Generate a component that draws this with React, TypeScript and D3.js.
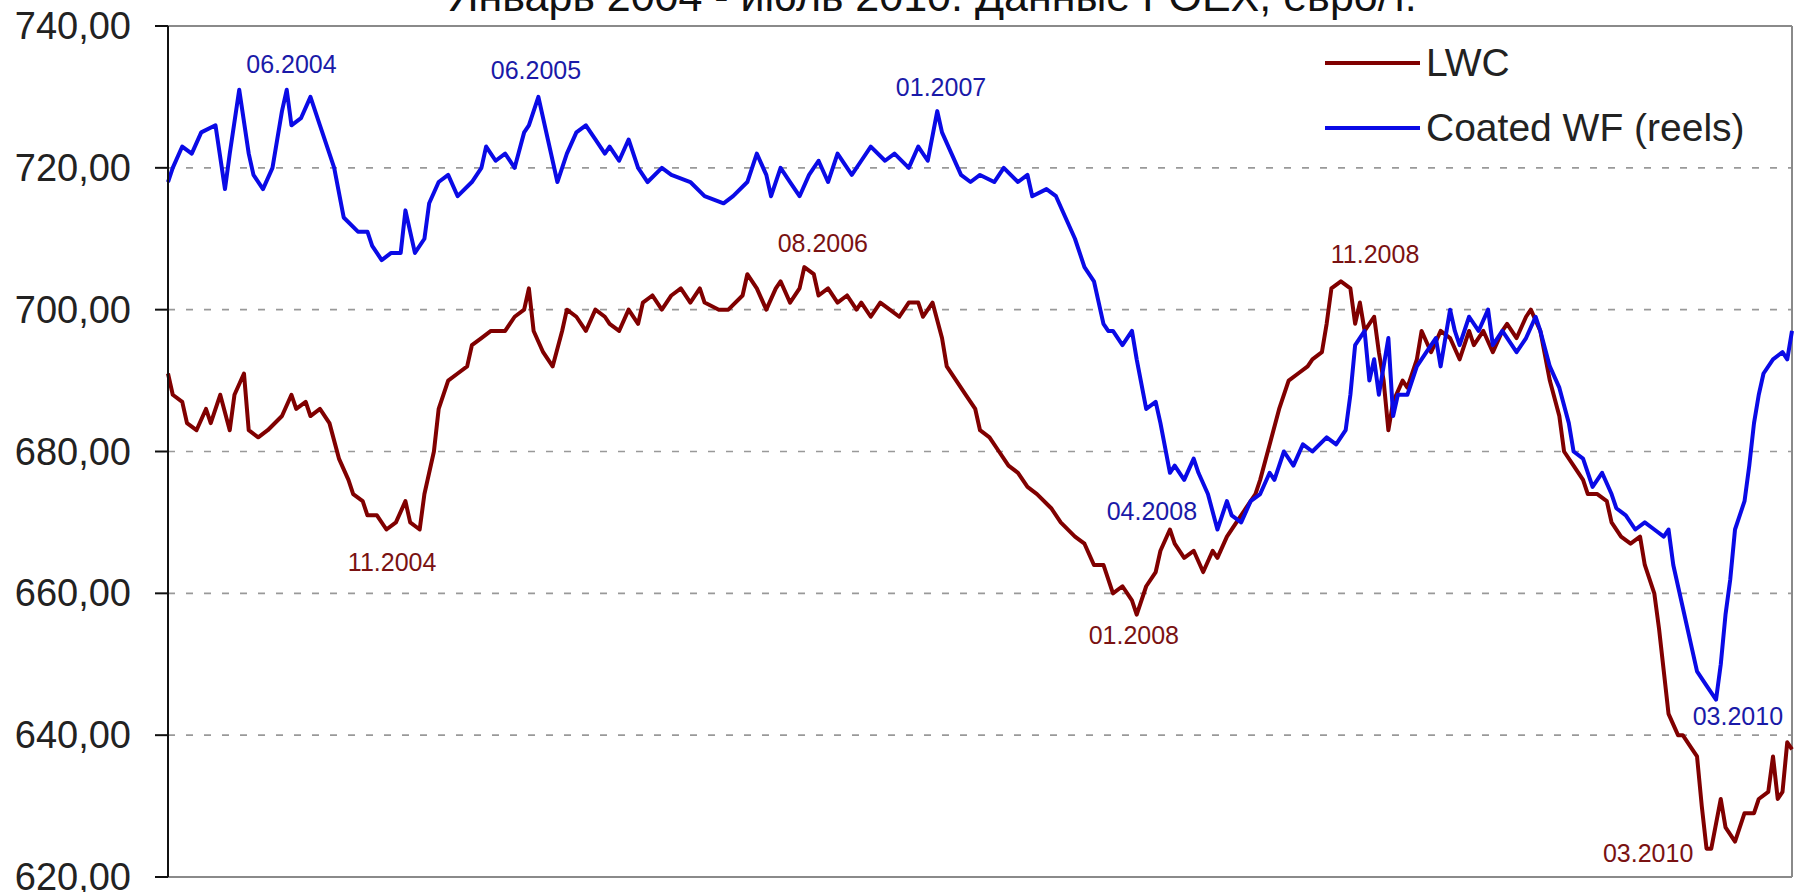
import React from 'react';
import * as d3 from 'd3';

// ---------- data ----------
const title = 'Январь 2004 - июль 2010. Данные FOEX, евро/т.';
const yTicks = [620, 640, 660, 680, 700, 720, 740];
const seriesNames = ['LWC', 'Coated WF (reels)'];

// week index since the first week of January 2004
const lwcWeeks = [0, 1, 3, 4, 6, 8, 9, 11, 13, 14, 16, 17, 19, 21, 24, 26, 27, 29, 30, 32, 34, 36, 38, 39, 41, 42, 44, 46, 48, 50, 51, 53, 54, 56, 57, 59, 61, 63, 64, 66, 68, 70, 71, 73, 75, 76, 77, 79, 81, 83, 84, 86, 88, 90, 92, 93, 95, 97, 99, 100, 102, 104, 106, 108, 110, 112, 113, 116, 118, 121, 122, 124, 126, 128, 129, 131, 133, 134, 136, 137, 139, 141, 143, 145, 146, 148, 150, 152, 154, 156, 158, 159, 161, 163, 164, 166, 168, 170, 171, 173, 175, 177, 179, 181, 183, 186, 188, 191, 193, 195, 197, 199, 201, 203, 204, 206, 208, 209, 211, 212, 214, 216, 218, 220, 221, 223, 225, 227, 229, 230, 232, 234, 236, 238, 240, 241, 243, 244, 245, 247, 249, 250, 251, 252, 254, 255, 256, 257, 258, 260, 261, 263, 264, 266, 268, 270, 272, 274, 275, 277, 279, 281, 282, 284, 286, 287, 289, 291, 293, 294, 296, 298, 299, 301, 303, 304, 306, 308, 310, 311, 313, 314, 315, 316, 318, 319, 321, 322, 323, 324, 325, 327, 328, 330, 331, 332, 334, 335, 337, 338, 339, 340, 341, 342];
const lwcValues = [691, 688, 687, 684, 683, 686, 684, 688, 683, 688, 691, 683, 682, 683, 685, 688, 686, 687, 685, 686, 684, 679, 676, 674, 673, 671, 671, 669, 670, 673, 670, 669, 674, 680, 686, 690, 691, 692, 695, 696, 697, 697, 697, 699, 700, 703, 697, 694, 692, 697, 700, 699, 697, 700, 699, 698, 697, 700, 698, 701, 702, 700, 702, 703, 701, 703, 701, 700, 700, 702, 705, 703, 700, 703, 704, 701, 703, 706, 705, 702, 703, 701, 702, 700, 701, 699, 701, 700, 699, 701, 701, 699, 701, 696, 692, 690, 688, 686, 683, 682, 680, 678, 677, 675, 674, 672, 670, 668, 667, 664, 664, 660, 661, 659, 657, 661, 663, 666, 669, 667, 665, 666, 663, 666, 665, 668, 670, 672, 674, 676, 681, 686, 690, 691, 692, 693, 694, 698, 703, 704, 703, 698, 701, 697, 699, 694, 690, 683, 687, 690, 689, 693, 697, 694, 697, 696, 693, 697, 695, 697, 694, 697, 698, 696, 699, 700, 697, 690, 685, 680, 678, 676, 674, 674, 673, 670, 668, 667, 668, 664, 660, 655, 649, 643, 640, 640, 638, 637, 630, 624, 624, 631, 627, 625, 627, 629, 629, 631, 632, 637, 631, 632, 639, 638];

const cwfWeeks = [0, 1, 3, 5, 7, 10, 12, 13, 15, 17, 18, 20, 22, 24, 25, 26, 28, 30, 32, 34, 35, 37, 40, 42, 43, 45, 47, 49, 50, 52, 54, 55, 57, 59, 61, 64, 66, 67, 69, 71, 73, 75, 76, 78, 80, 82, 84, 86, 88, 90, 92, 93, 95, 97, 99, 101, 104, 106, 110, 113, 117, 119, 122, 124, 126, 127, 129, 131, 133, 135, 137, 139, 141, 144, 146, 148, 151, 153, 156, 158, 160, 162, 163, 165, 167, 169, 171, 174, 176, 179, 181, 182, 185, 187, 189, 191, 193, 195, 197, 198, 199, 201, 203, 204, 206, 208, 209, 211, 212, 214, 216, 217, 219, 221, 223, 224, 226, 228, 230, 232, 233, 235, 237, 239, 241, 244, 246, 248, 249, 250, 252, 253, 254, 255, 257, 258, 259, 261, 263, 265, 267, 268, 270, 271, 272, 274, 276, 278, 279, 281, 284, 286, 288, 289, 291, 293, 295, 296, 298, 300, 302, 304, 305, 307, 309, 311, 313, 315, 316, 317, 319, 321, 322, 324, 326, 327, 328, 329, 330, 332, 333, 334, 335, 336, 338, 340, 341, 342];
const cwfValues = [718, 720, 723, 722, 725, 726, 717, 722, 731, 722, 719, 717, 720, 728, 731, 726, 727, 730, 726, 722, 720, 713, 711, 711, 709, 707, 708, 708, 714, 708, 710, 715, 718, 719, 716, 718, 720, 723, 721, 722, 720, 725, 726, 730, 724, 718, 722, 725, 726, 724, 722, 723, 721, 724, 720, 718, 720, 719, 718, 716, 715, 716, 718, 722, 719, 716, 720, 718, 716, 719, 721, 718, 722, 719, 721, 723, 721, 722, 720, 723, 721, 728, 725, 722, 719, 718, 719, 718, 720, 718, 719, 716, 717, 716, 713, 710, 706, 704, 698, 697, 697, 695, 697, 693, 686, 687, 684, 677, 678, 676, 679, 677, 674, 669, 673, 671, 670, 673, 674, 677, 676, 680, 678, 681, 680, 682, 681, 683, 688, 695, 697, 690, 693, 688, 696, 685, 688, 688, 692, 694, 696, 692, 700, 697, 695, 699, 697, 700, 695, 697, 694, 696, 699, 697, 692, 689, 684, 680, 679, 675, 677, 674, 672, 671, 669, 670, 669, 668, 669, 664, 658, 652, 649, 647, 645, 650, 657, 662, 669, 673, 678, 684, 688, 691, 693, 694, 693, 697];

// annotation labels (text, series index, anchor week, anchor value)
const noteTexts = ['06.2004', '06.2005', '01.2007', '04.2008', '03.2010', '11.2004', '08.2006', '01.2008', '11.2008', '03.2010'];
const noteSeries = [1, 1, 1, 1, 1, 0, 0, 0, 0, 0];
const noteWeeks = [26.0, 77.5, 162.8, 207.2, 330.6, 47.2, 137.9, 203.4, 254.2, 311.7];
const noteValues = [733.4, 732.5, 730.1, 670.3, 641.4, 663.2, 708.1, 652.9, 706.6, 622.1];

// ---------- layout ----------
const W = 1800;
const H = 892;
const M = { left: 168, right: 1792, top: 26, bottom: 877 };
const lineColors = ['#800000', '#0a0ae6'];
const labelColors = ['#7a1212', '#1a1aa8'];
const FONT = '"Liberation Sans", Arial, sans-serif';

export default function App() {
  const x = d3.scaleLinear().domain([0, 342]).range([M.left, M.right]);
  const y = d3.scaleLinear().domain([620, 740]).range([M.bottom, M.top]);

  const seriesData = [
    lwcWeeks.map((w, i) => [w, lwcValues[i]] as [number, number]),
    cwfWeeks.map((w, i) => [w, cwfValues[i]] as [number, number]),
  ];
  const line = d3
    .line<[number, number]>()
    .x((d) => x(d[0]))
    .y((d) => y(d[1]));

  return (
    <svg
      width={W}
      height={H}
      style={{ position: 'absolute', left: 0, top: 0, background: '#fff' }}
      fontFamily={FONT}
    >
      <rect x={0} y={0} width={W} height={H} fill="#fff" />
      {/* title (cut at top, as in the source picture) */}
      <text x={932} y={11} textAnchor="middle" fontSize={43} fill="#111">
        {title}
      </text>

      {/* grid */}
      {yTicks
        .filter((t) => t > 620 && t < 740)
        .map((t) => (
          <line
            key={'g' + t}
            x1={M.left}
            x2={M.right}
            y1={y(t)}
            y2={y(t)}
            stroke="#999"
            strokeWidth={1.6}
            strokeDasharray="7,11"
          />
        ))}

      {/* frame */}
      <line x1={M.left} x2={M.right} y1={M.top} y2={M.top} stroke="#8a8a8a" strokeWidth={2} />
      <line x1={M.right} x2={M.right} y1={M.top} y2={M.bottom} stroke="#8a8a8a" strokeWidth={2} />
      <line x1={M.left} x2={M.right} y1={M.bottom} y2={M.bottom} stroke="#8a8a8a" strokeWidth={2} />

      {/* series */}
      {seriesData.map((d, i) => (
        <path
          key={'s' + i}
          d={line(d) || ''}
          fill="none"
          stroke={lineColors[i]}
          strokeWidth={4}
          strokeLinejoin="round"
        />
      ))}

      {/* y axis */}
      <line x1={M.left} x2={M.left} y1={M.top} y2={M.bottom} stroke="#111" strokeWidth={2} />
      {yTicks.map((t) => (
        <g key={'t' + t}>
          <line x1={M.left - 13} x2={M.left} y1={y(t)} y2={y(t)} stroke="#111" strokeWidth={2} />
          <text x={131} y={y(t) + 13} textAnchor="end" fontSize={38} fill="#222">
            {d3.format('.2f')(t).replace('.', ',')}
          </text>
        </g>
      ))}

      {/* annotations */}
      {noteTexts.map((t, i) => (
        <text
          key={'n' + i}
          x={x(noteWeeks[i])}
          y={y(noteValues[i])}
          textAnchor="middle"
          fontSize={25}
          fill={labelColors[noteSeries[i]]}
        >
          {t}
        </text>
      ))}

      {/* legend */}
      {seriesNames.map((n, i) => (
        <g key={'l' + i}>
          <line
            x1={1325}
            x2={1420}
            y1={63 + i * 65}
            y2={63 + i * 65}
            stroke={lineColors[i]}
            strokeWidth={4}
          />
          <text x={1426} y={63 + i * 65 + 13} fontSize={39} fill="#222">
            {n}
          </text>
        </g>
      ))}
    </svg>
  );
}
